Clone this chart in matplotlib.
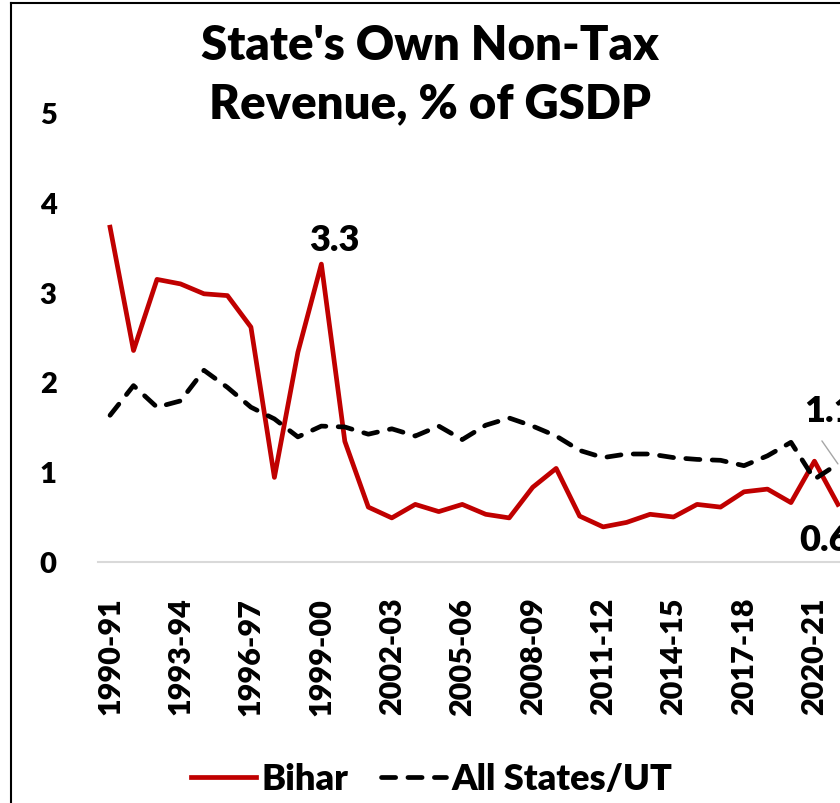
import numpy as np
import matplotlib
matplotlib.use("Agg")
import matplotlib.pyplot as plt
from matplotlib.lines import Line2D

plt.rcParams['font.family'] = ['Lato', 'DejaVu Sans']
plt.rcParams['font.weight'] = 'heavy'

# fiscal years shown on the category axis
years = ['1990-91', '1991-92', '1992-93', '1993-94', '1994-95', '1995-96',
         '1996-97', '1997-98', '1998-99', '1999-00', '2000-01', '2001-02',
         '2002-03', '2003-04', '2004-05', '2005-06', '2006-07', '2007-08',
         '2008-09', '2009-10', '2010-11', '2011-12', '2012-13', '2013-14',
         '2014-15', '2015-16', '2016-17', '2017-18', '2018-19', '2019-20',
         '2020-21', '2021-22']

# own non-tax revenue, % of GSDP
bihar = [3.72, 2.35, 3.14, 3.09, 2.98, 2.96, 2.61, 0.94, 2.33, 3.31,
         1.34, 0.61, 0.49, 0.64, 0.56, 0.64, 0.53, 0.49, 0.83, 1.04,
         0.51, 0.39, 0.44, 0.53, 0.50, 0.64, 0.61, 0.78, 0.81, 0.66,
         1.12, 0.64]
all_states = [1.63, 1.96, 1.72, 1.79, 2.13, 1.94, 1.72, 1.59, 1.39, 1.51,
              1.50, 1.42, 1.48, 1.40, 1.51, 1.36, 1.52, 1.60, 1.51, 1.40,
              1.24, 1.16, 1.20, 1.20, 1.16, 1.14, 1.13, 1.07, 1.18, 1.33,
              0.92, 1.09]

W, H = 840, 804
fig = plt.figure(figsize=(W / 100, H / 100), dpi=100)

# plot area in pixels: left edge, bottom (y=0), top (y=5), step per category
x0, y0, y5, step = 98.3, 563, 113, 23.48
n = len(years)
ax = fig.add_axes([x0 / W, 1 - y0 / H, n * step / W, (y0 - y5) / H])

x = np.arange(n)
ax.plot(x, bihar, color='#C00000', lw=3.4, solid_joinstyle='round',
        label='Bihar')
ax.plot(x, all_states, color='black', lw=3.4, linestyle=(0, (3.0, 2.6)),
        dash_capstyle='round', label='All States/UT')

ax.set_xlim(-0.5, n - 0.5)
ax.set_ylim(0, 5)
ax.set_yticks(range(0, 6))
ax.set_xticks(x[::3])
ax.set_xticklabels(years[::3], rotation=90, fontsize=22, fontweight='heavy',
                   va='top', ha='center')
ax.tick_params(axis='y', length=0, pad=30, labelsize=21)
ax.tick_params(axis='x', length=0, pad=25)
for s in ['top', 'right', 'left']:
    ax.spines[s].set_visible(False)
ax.spines['bottom'].set_color('#d9d9d9')
ax.spines['bottom'].set_linewidth(1.5)

# value labels
peak = int(np.argmax(bihar[5:])) + 5
ax.annotate(f'{bihar[peak]:.1f}', xy=(peak, bihar[peak]), xytext=(13, 25),
            textcoords='offset pixels', ha='center', va='center',
            fontsize=26, fontweight='heavy')
last = n - 1
ax.annotate(f'{all_states[last]:.1f}', xy=(last, all_states[last]),
            xytext=(-8, 53), textcoords='offset pixels', ha='center',
            va='center', fontsize=26, fontweight='heavy',
            annotation_clip=False)
ax.annotate('', xy=(last, all_states[last]), xytext=(-16, 23),
            textcoords='offset pixels',
            arrowprops=dict(arrowstyle='-', color='#a6a6a6', lw=1,
                            shrinkA=0, shrinkB=0), annotation_clip=False)
ax.annotate(f'{bihar[last]:.1f}', xy=(last, bihar[last]), xytext=(-13, -35),
            textcoords='offset pixels', ha='center', va='center',
            fontsize=26, fontweight='heavy', annotation_clip=False)

fig.text(430 / W, 1 - 75 / H, "State's Own Non-Tax\nRevenue, % of GSDP",
         ha='center', va='center', fontsize=34, fontweight='heavy',
         linespacing=1.4)

fig.legend(loc='center', bbox_to_anchor=(432 / W, 1 - 780 / H), ncol=2,
           frameon=False, fontsize=26, handlelength=1.8, handletextpad=0.15,
           columnspacing=0.9)

# chart border
fig.add_artist(Line2D([11 / W, 11 / W], [0, 1 - 4 / H], color='black',
                      lw=1.5, transform=fig.transFigure))
fig.add_artist(Line2D([11 / W, 1], [1 - 4 / H, 1 - 4 / H], color='black',
                      lw=1.5, transform=fig.transFigure))

fig.savefig('out.png', dpi=100)
